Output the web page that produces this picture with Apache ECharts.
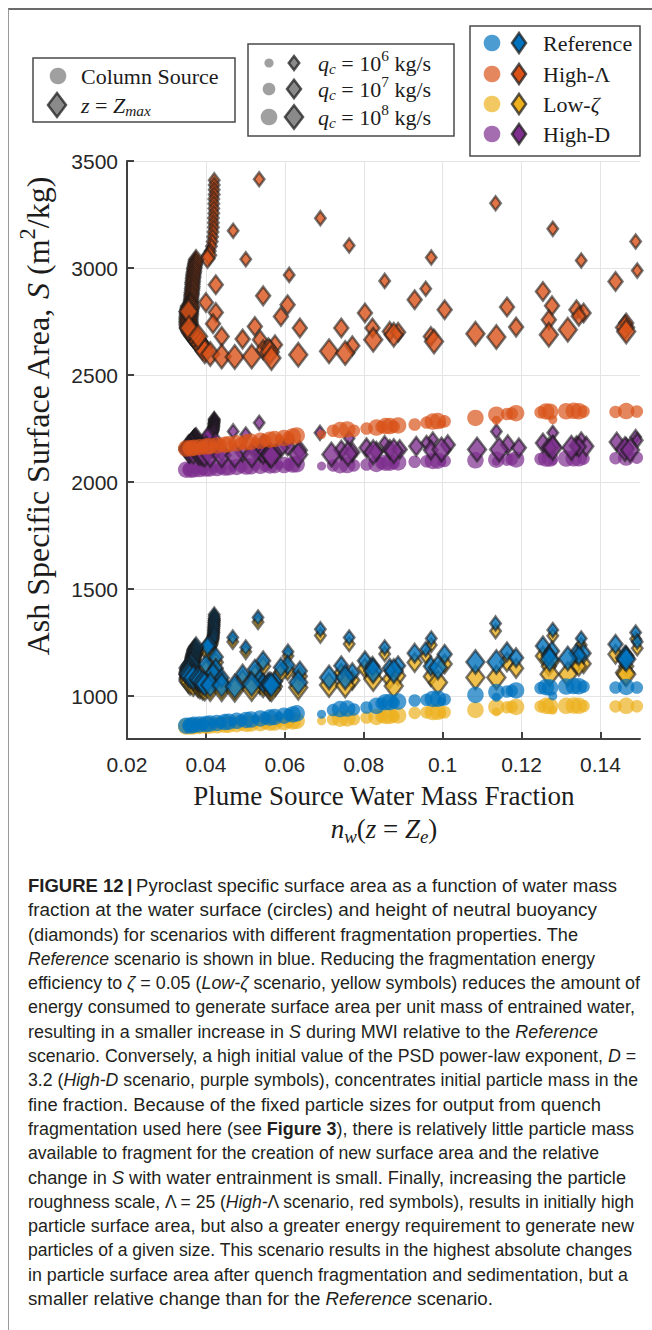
<!DOCTYPE html>
<html><head><meta charset="utf-8">
<script src="https://cdn.jsdelivr.net/npm/echarts@6/dist/echarts.min.js"></script>
<style>
html,body{margin:0;padding:0;background:#fff;width:652px;height:1330px;overflow:hidden;}
#frame{position:absolute;left:8px;top:8px;width:644px;height:1322px;border-top:2px solid #6b6b6b;border-left:1px solid #9a9a9a;box-sizing:border-box;}
#chart{position:absolute;left:0;top:0;width:652px;height:850px;}
#cap{position:absolute;left:28px;top:874px;font-family:"Liberation Sans",Arial,sans-serif;font-size:17.5px;line-height:24.3px;color:#231f20;white-space:nowrap;}
#cap div{transform-origin:0 50%;height:24.3px;}
</style></head>
<body>
<div id="frame"></div>
<div id="chart"></div>
<div id="cap">
<div data-w="589"><b>FIGURE 12&thinsp;|&thinsp;</b>Pyroclast specific surface area as a function of water mass</div>
<div data-w="569">fraction at the water surface (circles) and height of neutral buoyancy</div>
<div data-w="550">(diamonds) for scenarios with different fragmentation properties. The</div>
<div data-w="567"><i>Reference</i> scenario is shown in blue. Reducing the fragmentation energy</div>
<div data-w="612">efficiency to <i>ζ</i> = 0.05 (<i>Low-ζ</i> scenario, yellow symbols) reduces the amount of</div>
<div data-w="607">energy consumed to generate surface area per unit mass of entrained water,</div>
<div data-w="570">resulting in a smaller increase in <i>S</i> during MWI relative to the <i>Reference</i></div>
<div data-w="608">scenario. Conversely, a high initial value of the PSD power-law exponent, <i>D</i> =</div>
<div data-w="610">3.2 (<i>High-D</i> scenario, purple symbols), concentrates initial particle mass in the</div>
<div data-w="573">fine fraction. Because of the fixed particle sizes for output from quench</div>
<div data-w="606">fragmentation used here (see <b>Figure 3</b>), there is relatively little particle mass</div>
<div data-w="571">available to fragment for the creation of new surface area and the relative</div>
<div data-w="598">change in <i>S</i> with water entrainment is small. Finally, increasing the particle</div>
<div data-w="606">roughness scale, Λ = 25 (<i>High-</i>Λ scenario, red symbols), results in initially high</div>
<div data-w="606">particle surface area, but also a greater energy requirement to generate new</div>
<div data-w="604">particles of a given size. This scenario results in the highest absolute changes</div>
<div data-w="600">in particle surface area after quench fragmentation and sedimentation, but a</div>
<div data-w="465">smaller relative change than for the <i>Reference</i> scenario.</div>
</div>
<script>
// ---------------- data ----------------
const xTicks = [0.02, 0.04, 0.06, 0.08, 0.10, 0.12, 0.14];
const yTicks = [1000, 1500, 2000, 2500, 3000, 3500];
const scenarioNames = ['Reference', 'High-Λ', 'Low-ζ', 'High-D'];
const qcExponents = [6, 7, 8];

// [water mass fraction, S (m2/kg), log10(qc)]
const refCirc = [
 [0.0350,862,8],[0.0356,864,7],[0.0362,863,8],[0.0370,866,8],[0.0376,865,6],[0.0384,868,8],[0.0392,869,7],[0.0400,870,8],[0.0410,872,8],[0.0418,873,6],[0.0428,875,8],[0.0438,877,7],[0.0448,879,8],[0.0458,881,8],[0.0468,882,6],[0.0478,885,8],[0.0490,887,7],[0.0502,889,8],[0.0514,891,8],[0.0526,893,6],[0.0538,896,8],[0.0550,898,7],[0.0562,900,8],[0.0574,903,8],[0.0586,906,6],[0.0598,909,8],[0.0610,912,7],[0.0620,915,8],[0.0630,920,8],
 [0.0693,916,6],[0.0722,935,7],[0.0740,940,8],[0.0758,942,8],[0.0775,938,7],[0.0807,947,7],[0.0832,955,8],
 [0.0845,966,7],[0.0855,972,8],[0.0866,972,8],[0.0876,970,7],[0.0887,975,8],
 [0.0929,980,7],[0.0959,983,7],[0.0975,987,8],[0.0988,988,8],[0.1005,985,7],[0.0997,975,6],
 [0.1083,1006,8],[0.1136,1019,8],[0.1136,995,6],[0.1163,1022,7],[0.1175,1025,7],[0.1186,1027,8],
 [0.1248,1038,7],[0.1262,1042,8],[0.1272,1040,8],[0.1279,1001,6],
 [0.1313,1045,8],[0.1332,1047,8],[0.1345,1046,8],[0.1357,1045,7],
 [0.1438,1040,7],[0.1465,1043,8],[0.1492,1040,7]
];
const lowZetaCirc = [
 [0.0350,858,8],[0.0356,859,7],[0.0362,858,8],[0.0370,860,8],[0.0376,859,6],[0.0384,861,8],[0.0392,861,7],[0.0400,862,8],[0.0410,863,8],[0.0418,863,6],[0.0428,864,8],[0.0438,865,7],[0.0448,866,8],[0.0458,867,8],[0.0468,867,6],[0.0478,869,8],[0.0490,870,7],[0.0502,871,8],[0.0514,872,8],[0.0526,872,6],[0.0538,874,8],[0.0550,875,7],[0.0562,876,8],[0.0574,877,8],[0.0586,877,6],[0.0598,879,8],[0.0610,880,7],[0.0620,882,8],[0.0630,885,8],
 [0.0693,885,6],[0.0722,892,7],[0.0740,895,8],[0.0758,896,8],[0.0775,893,7],[0.0807,900,7],[0.0832,903,8],
 [0.0845,905,7],[0.0855,908,8],[0.0866,908,8],[0.0876,906,7],[0.0887,910,8],
 [0.0929,922,7],[0.0959,924,7],[0.0975,926,8],[0.0988,927,8],[0.1005,925,7],[0.0997,918,6],
 [0.1083,936,8],[0.1136,949,8],[0.1136,927,6],[0.1163,948,7],[0.1175,950,7],[0.1186,950,8],
 [0.1248,952,7],[0.1262,955,8],[0.1272,954,8],[0.1279,935,6],
 [0.1313,955,8],[0.1332,956,8],[0.1345,955,8],[0.1357,954,7],
 [0.1438,952,7],[0.1465,955,8],[0.1492,953,7]
];
const hiLamCirc = [
 [0.0350,2157,8],[0.0356,2159,7],[0.0362,2158,8],[0.0370,2161,8],[0.0376,2160,6],[0.0384,2163,8],[0.0392,2164,7],[0.0400,2166,8],[0.0410,2168,8],[0.0418,2168,6],[0.0428,2171,8],[0.0438,2173,7],[0.0448,2175,8],[0.0458,2177,8],[0.0468,2177,6],[0.0478,2181,8],[0.0490,2183,7],[0.0502,2186,8],[0.0514,2188,8],[0.0526,2188,6],[0.0538,2193,8],[0.0550,2195,7],[0.0562,2198,8],[0.0574,2201,8],[0.0586,2202,6],[0.0598,2206,8],[0.0610,2209,7],[0.0620,2213,8],[0.0630,2218,8],
 [0.0693,2222,6],[0.0722,2240,7],[0.0740,2243,8],[0.0758,2246,8],[0.0775,2240,7],[0.0807,2250,7],[0.0832,2255,8],
 [0.0845,2258,7],[0.0855,2262,8],[0.0866,2262,8],[0.0876,2259,7],[0.0887,2265,8],
 [0.0929,2269,7],[0.0959,2278,7],[0.0975,2283,8],[0.0988,2285,8],[0.1005,2284,7],[0.0997,2272,6],
 [0.1083,2300,8],[0.1136,2315,8],[0.1136,2289,6],[0.1163,2318,7],[0.1175,2320,7],[0.1186,2322,8],
 [0.1248,2326,7],[0.1262,2330,8],[0.1272,2329,8],[0.1279,2292,6],
 [0.1313,2331,8],[0.1332,2333,8],[0.1345,2331,8],[0.1357,2330,7],
 [0.1438,2328,7],[0.1465,2332,8],[0.1492,2330,7]
];
const hiDCirc = [
 [0.0350,2058,8],[0.0356,2059,7],[0.0362,2058,8],[0.0370,2060,8],[0.0376,2059,6],[0.0384,2061,8],[0.0392,2062,7],[0.0400,2063,8],[0.0410,2064,8],[0.0418,2064,6],[0.0428,2066,8],[0.0438,2067,7],[0.0448,2068,8],[0.0458,2069,8],[0.0468,2069,6],[0.0478,2071,8],[0.0490,2072,7],[0.0502,2073,8],[0.0514,2074,8],[0.0526,2074,6],[0.0538,2076,8],[0.0550,2077,7],[0.0562,2078,8],[0.0574,2079,8],[0.0586,2079,6],[0.0598,2080,8],[0.0610,2081,7],[0.0620,2082,8],[0.0630,2083,8],
 [0.0693,2075,6],[0.0722,2078,7],[0.0740,2079,8],[0.0758,2080,8],[0.0775,2078,7],[0.0807,2082,7],[0.0832,2085,8],
 [0.0845,2088,7],[0.0855,2091,8],[0.0866,2091,8],[0.0876,2089,7],[0.0887,2092,8],
 [0.0929,2095,7],[0.0959,2097,7],[0.0975,2099,8],[0.0988,2100,8],[0.1005,2099,7],[0.0997,2094,6],
 [0.1083,2102,8],[0.1136,2105,8],[0.1136,2098,6],[0.1163,2105,7],[0.1175,2106,7],[0.1186,2106,8],
 [0.1248,2108,7],[0.1262,2110,8],[0.1272,2110,8],[0.1279,2100,6],
 [0.1313,2110,8],[0.1332,2111,8],[0.1345,2111,8],[0.1357,2110,7],
 [0.1438,2112,7],[0.1465,2115,8],[0.1492,2114,7]
];

const hiLamDia = [
 [0.0421,3410,6],[0.0421,3388,6],[0.0421,3366,6],[0.0421,3344,6],[0.0420,3322,6],[0.0420,3300,6],[0.0420,3278,6],[0.0420,3256,6],[0.0419,3234,6],[0.0419,3212,6],[0.0419,3190,6],[0.0418,3168,6],[0.0417,3146,6],[0.0416,3124,6],[0.0414,3102,6],[0.0411,3080,6],[0.0408,3060,7],[0.0404,3045,7],
 [0.0375,3040,7],[0.0374,3031,7],[0.0373,3021,7],[0.0372,3013,7],[0.0371,3003,7],[0.0370,2995,7],[0.0370,2985,7],[0.0369,2977,7],[0.0368,2967,7],[0.0368,2958,7],[0.0367,2950,7],[0.0367,2940,7],[0.0366,2931,7],[0.0366,2923,7],[0.0366,2913,7],[0.0365,2904,7],[0.0365,2896,7],[0.0364,2886,7],[0.0364,2877,7],[0.0363,2869,7],[0.0363,2859,7],[0.0362,2850,7],[0.0362,2841,7],[0.0361,2832,7],[0.0360,2823,8],[0.0359,2814,8],[0.0358,2806,8],[0.0357,2796,8],[0.0357,2788,8],[0.0357,2779,8],[0.0356,2770,8],[0.0356,2761,8],[0.0356,2752,8],[0.0356,2743,8],[0.0356,2734,8],[0.0357,2725,8],[0.0358,2716,8],[0.0360,2706,8],[0.0363,2696,8],[0.0368,2685,8],[0.0374,2672,8],[0.0380,2658,8],[0.0386,2644,8],[0.0392,2628,8],[0.0397,2611,8],
 [0.0356,2797,8],[0.0357,2720,8],[0.0380,2680,8],
 [0.0535,3415,6],[0.0469,3174,6],[0.0501,3041,6],[0.0611,2968,6],[0.0425,2922,7],[0.0545,2870,7],[0.0400,2839,7],[0.0607,2828,7],[0.0425,2792,7],[0.0590,2774,7],[0.0418,2740,7],[0.0524,2727,7],[0.0638,2720,7],[0.0440,2680,7],[0.0493,2668,7],[0.0537,2665,7],[0.0575,2642,7],[0.0545,2618,7],[0.0558,2628,7],[0.0562,2608,8],[0.0411,2598,8],[0.0440,2587,8],[0.0473,2584,8],[0.0516,2587,8],[0.0566,2580,8],[0.0634,2595,8],
 [0.0690,3233,6],[0.0763,3105,6],[0.0803,2790,7],[0.0743,2720,7],[0.0822,2720,7],[0.0771,2637,7],[0.0824,2665,8],[0.0712,2611,8],[0.0753,2603,8],
 [0.0853,2940,6],[0.0971,3049,6],[0.0957,2903,6],[0.0929,2852,7],[0.1005,2805,7],[0.0866,2704,7],[0.0887,2700,7],[0.0876,2688,8],[0.0970,2680,7],[0.0978,2657,8],
 [0.1134,3303,6],[0.1163,2818,7],[0.1186,2724,7],[0.1083,2693,8],[0.1136,2678,8],
 [0.1279,3183,6],[0.1351,3035,6],[0.1254,2890,7],[0.1277,2824,7],[0.1339,2805,7],[0.1357,2790,7],[0.1345,2775,7],[0.1269,2758,7],[0.1317,2712,8],[0.1269,2688,8],
 [0.1489,3124,6],[0.1493,2988,6],[0.1438,2937,7],[0.1465,2743,7],[0.1462,2722,8],[0.1465,2704,8]
];
const refDia = [
 [0.0421,1381,6],[0.0421,1372,6],[0.0421,1363,6],[0.0421,1354,6],[0.0420,1345,6],[0.0420,1336,6],[0.0420,1327,6],[0.0420,1318,6],[0.0419,1309,6],[0.0419,1300,6],[0.0419,1292,6],[0.0418,1283,6],[0.0417,1274,6],[0.0416,1265,6],[0.0414,1256,6],[0.0411,1247,6],[0.0408,1239,7],[0.0404,1233,7],
 [0.0375,1231,7],[0.0373,1223,7],[0.0371,1217,7],[0.0370,1210,7],[0.0369,1202,7],[0.0368,1195,7],[0.0367,1188,7],[0.0366,1181,7],[0.0366,1174,7],[0.0365,1167,7],[0.0364,1160,7],[0.0363,1153,7],[0.0362,1146,8],[0.0360,1138,8],[0.0356,1132,8],[0.0358,1125,8],[0.0357,1117,8],[0.0356,1110,8],[0.0356,1101,8],[0.0360,1093,8],[0.0368,1087,8],[0.0380,1081,8],[0.0385,1073,8],[0.0392,1065,8],[0.0397,1057,8],
 [0.0532,1367,6],[0.0468,1274,6],[0.0501,1227,6],[0.0608,1208,6],[0.0425,1183,7],[0.0545,1165,7],[0.0400,1149,7],[0.0607,1145,7],[0.0425,1130,7],[0.0590,1134,7],[0.0418,1109,7],[0.0524,1126,7],[0.0638,1118,7],[0.0440,1085,7],[0.0493,1103,7],[0.0537,1079,7],[0.0575,1070,7],[0.0545,1060,7],[0.0558,1064,7],[0.0562,1056,8],[0.0411,1052,8],[0.0440,1051,8],[0.0473,1045,8],[0.0516,1056,8],[0.0566,1051,8],[0.0634,1064,8],
 [0.0690,1313,6],[0.0763,1274,6],[0.0803,1165,7],[0.0743,1142,7],[0.0822,1140,7],[0.0771,1110,7],[0.0824,1118,8],[0.0712,1087,8],[0.0753,1087,8],
 [0.0853,1227,6],[0.0971,1269,6],[0.0957,1219,6],[0.0929,1201,7],[0.1005,1196,7],[0.0866,1130,7],[0.0887,1142,7],[0.0876,1118,8],[0.0970,1140,7],[0.0988,1134,8],
 [0.1134,1340,6],[0.1163,1207,7],[0.1186,1180,7],[0.1083,1160,8],[0.1136,1160,8],
 [0.1279,1309,6],[0.1351,1269,6],[0.1254,1235,7],[0.1277,1211,7],[0.1339,1200,7],[0.1357,1200,7],[0.1345,1190,7],[0.1269,1190,7],[0.1317,1176,8],[0.1271,1173,8],
 [0.1489,1297,6],[0.1493,1254,6],[0.1438,1243,7],[0.1465,1190,7],[0.1462,1180,8],[0.1465,1173,8]
];
const lowZetaDia = [
 [0.0421,1360,6],[0.0421,1351,6],[0.0421,1342,6],[0.0421,1333,6],[0.0420,1324,6],[0.0420,1315,6],[0.0420,1306,6],[0.0420,1297,6],[0.0419,1288,6],[0.0419,1279,6],[0.0419,1271,6],[0.0418,1262,6],[0.0417,1253,6],[0.0416,1244,6],[0.0414,1235,6],[0.0411,1226,6],[0.0408,1214,7],[0.0404,1208,7],
 [0.0375,1206,7],[0.0373,1198,7],[0.0371,1192,7],[0.0370,1185,7],[0.0369,1177,7],[0.0368,1170,7],[0.0367,1163,7],[0.0366,1156,7],[0.0366,1149,7],[0.0365,1142,7],[0.0364,1135,7],[0.0363,1128,7],[0.0362,1116,8],[0.0360,1108,8],[0.0356,1102,8],[0.0358,1095,8],[0.0357,1087,8],[0.0356,1080,8],[0.0356,1071,8],[0.0360,1063,8],[0.0368,1057,8],[0.0380,1051,8],[0.0385,1045,8],[0.0392,1040,8],[0.0397,1036,8],
 [0.0532,1347,6],[0.0468,1254,6],[0.0501,1207,6],[0.0608,1188,6],[0.0425,1158,7],[0.0545,1140,7],[0.0400,1124,7],[0.0607,1120,7],[0.0425,1105,7],[0.0590,1109,7],[0.0418,1084,7],[0.0524,1101,7],[0.0638,1093,7],[0.0440,1060,7],[0.0493,1078,7],[0.0537,1054,7],[0.0575,1045,7],[0.0545,1040,7],[0.0558,1042,7],[0.0562,1036,8],[0.0411,1034,8],[0.0440,1033,8],[0.0473,1030,8],[0.0516,1034,8],[0.0566,1032,8],[0.0634,1040,8],
 [0.0690,1283,6],[0.0763,1244,6],[0.0803,1130,7],[0.0743,1107,7],[0.0822,1105,7],[0.0771,1075,7],[0.0824,1080,8],[0.0712,1052,8],[0.0753,1050,8],
 [0.0853,1197,6],[0.0971,1239,6],[0.0957,1187,6],[0.0929,1157,7],[0.1005,1150,7],[0.0866,1080,7],[0.0887,1095,7],[0.0876,1048,8],[0.0970,1092,7],[0.0988,1064,8],
 [0.1134,1304,6],[0.1163,1160,7],[0.1186,1130,7],[0.1083,1087,8],[0.1136,1087,8],
 [0.1279,1282,6],[0.1351,1239,6],[0.1254,1188,7],[0.1277,1162,7],[0.1339,1152,7],[0.1357,1152,7],[0.1345,1140,7],[0.1269,1140,7],[0.1317,1103,8],[0.1271,1103,8],
 [0.1489,1267,6],[0.1493,1224,6],[0.1438,1196,7],[0.1465,1140,7],[0.1462,1110,8],[0.1465,1103,8]
];
const hiDDia = [
 [0.0421,2295,6],[0.0421,2290,6],[0.0421,2285,6],[0.0421,2280,6],[0.0420,2275,6],[0.0420,2270,6],[0.0420,2265,6],[0.0420,2260,6],[0.0419,2255,6],[0.0419,2250,6],[0.0419,2245,6],[0.0418,2240,6],[0.0417,2235,6],[0.0416,2229,6],[0.0414,2224,6],[0.0411,2218,6],[0.0408,2213,7],[0.0404,2209,7],
 [0.0375,2208,7],[0.0373,2205,7],[0.0371,2202,7],[0.0370,2199,7],[0.0369,2195,7],[0.0368,2192,7],[0.0367,2189,7],[0.0366,2186,7],[0.0366,2182,7],[0.0365,2179,7],[0.0364,2176,7],[0.0363,2173,7],[0.0362,2170,8],[0.0360,2166,8],[0.0356,2163,8],[0.0358,2160,8],[0.0357,2157,8],[0.0356,2153,8],[0.0356,2149,8],[0.0360,2145,8],[0.0368,2143,8],[0.0380,2140,8],[0.0385,2136,8],[0.0392,2133,8],[0.0397,2129,8],
 [0.0535,2277,6],[0.0469,2237,6],[0.0501,2222,6],[0.0611,2195,6],[0.0425,2187,7],[0.0545,2177,7],[0.0400,2171,7],[0.0607,2169,7],[0.0425,2162,7],[0.0590,2159,7],[0.0418,2153,7],[0.0524,2150,7],[0.0638,2149,7],[0.0440,2142,7],[0.0493,2140,7],[0.0537,2139,7],[0.0575,2135,7],[0.0545,2130,7],[0.0558,2132,7],[0.0562,2128,8],[0.0411,2127,8],[0.0440,2125,8],[0.0473,2124,8],[0.0516,2125,8],[0.0566,2123,8],[0.0634,2129,8],
 [0.0689,2230,6],[0.0763,2205,6],[0.0807,2160,7],[0.0743,2150,7],[0.0832,2144,7],[0.0771,2140,7],[0.0824,2140,8],[0.0718,2129,8],[0.0760,2133,8],
 [0.0853,2182,6],[0.0975,2199,6],[0.0959,2183,6],[0.0933,2167,7],[0.1013,2175,7],[0.0866,2152,7],[0.0891,2152,7],[0.0876,2145,8],[0.0970,2150,7],[0.0997,2152,8],
 [0.1136,2237,6],[0.1165,2175,7],[0.1193,2160,7],[0.1087,2152,8],[0.1143,2152,8],
 [0.1279,2230,6],[0.1351,2199,6],[0.1254,2183,7],[0.1279,2170,7],[0.1339,2170,7],[0.1364,2167,7],[0.1345,2165,7],[0.1269,2162,7],[0.1326,2160,8],[0.1279,2160,8],
 [0.1489,2211,6],[0.1493,2195,6],[0.1441,2187,7],[0.1465,2162,7],[0.1462,2155,8],[0.1475,2150,8]
];

// ---------------- styles ----------------
const COL = { ref: '#0072BD', hiLam: '#D95319', lowZeta: '#EDB120', hiD: '#7E2F8E' };
const CIRC_SIZE = { 6: 9, 7: 12.5, 8: 16.5 };
const DIA_SIZE = { 6: [10.5, 14], 7: [14, 18.5], 8: [18, 23.5] };
const EDGE = 'rgba(25,25,25,0.72)';
const TXT = '#1c1c1c';
const SERIF = 'Liberation Serif';
const SANS = 'Liberation Sans';

function circSeries(name, data, color) {
  return { name, type: 'scatter', data, symbol: 'circle', clip: false, silent: true,
    symbolSize: d => CIRC_SIZE[d[2]], itemStyle: { color, opacity: 0.7 }, emphasis: { disabled: true } };
}
function diaSeries(name, data, color) {
  return { name, type: 'scatter', data, symbol: 'diamond', clip: false, silent: true,
    symbolSize: d => DIA_SIZE[d[2]], itemStyle: { color, borderColor: EDGE, borderWidth: 2.5 }, emphasis: { disabled: true } };
}

// ---------------- text helpers ----------------
const mctx = document.createElement('canvas').getContext('2d');
function measure(t, font) { mctx.font = font; return mctx.measureText(t).width; }
function mathParts(parts, size, color) {
  let x = 0; const ch = [];
  for (const [t, st] of parts) {
    const small = (st === 'sub' || st === 'sup' || st === 'isub');
    const fs = small ? size * 0.7 : size;
    const italic = (st === 'i' || st === 'isub');
    const font = (italic ? 'italic ' : '') + fs + 'px "' + SERIF + '"';
    const dy = st === 'sup' ? -size * 0.33 : (small ? size * 0.27 : 0);
    ch.push({ type: 'text', x: x, y: dy, silent: true,
      style: { text: t, fontSize: fs, fontFamily: SERIF, fontStyle: italic ? 'italic' : 'normal',
        fill: color || TXT, align: 'left', verticalAlign: 'middle' } });
    x += measure(t, font);
  }
  return { ch, w: x };
}
function textGroup(x, y, parts, size, anchor, rotation) {
  const m = mathParts(parts, size);
  if (anchor === 'center') m.ch.forEach(c => { c.x -= m.w / 2; });
  const g = { type: 'group', x, y, children: m.ch, silent: true };
  if (rotation) g.rotation = rotation;
  return g;
}
function diamond(cx, cy, w, h, fill) {
  return { type: 'polygon', silent: true,
    shape: { points: [[cx, cy - h / 2], [cx + w / 2, cy], [cx, cy + h / 2], [cx - w / 2, cy]] },
    style: { fill, stroke: EDGE, lineWidth: 2.5 } };
}
function circle(cx, cy, r, fill, op) {
  return { type: 'circle', silent: true, shape: { cx, cy, r }, style: { fill, opacity: op == null ? 1 : op } };
}
function box(x, y, w, h) {
  return { type: 'rect', silent: true, shape: { x, y, width: w, height: h },
    style: { fill: '#fff', stroke: '#4a4a4a', lineWidth: 1.5 } };
}

// ---------------- graphic (legends, titles) ----------------
const LS = 22;
const graphic = [];
// legend 1
graphic.push(box(33, 58, 202, 64));
graphic.push(circle(58, 76, 8.3, '#8f8f8f', 0.85));
graphic.push(diamond(57, 105, 18, 24, '#8a8a8a'));
graphic.push(textGroup(81, 76, [['Column Source', 'n']], LS));
graphic.push(textGroup(81, 105, [['z', 'i'], [' = ', 'n'], ['Z', 'i'], ['max', 'isub']], LS));
// legend 2
graphic.push(box(248, 44, 206, 92));
const l2y = [63, 89, 117];
const l2r = { 6: 4.6, 7: 6.3, 8: 8.3 };
qcExponents.forEach((q, i) => {
  graphic.push(circle(269, l2y[i], l2r[q], '#8f8f8f', 0.85));
  graphic.push(diamond(294, l2y[i], DIA_SIZE[q][0], DIA_SIZE[q][1], '#8a8a8a'));
  graphic.push(textGroup(318, l2y[i], [['q', 'i'], ['c', 'isub'], [' = 10', 'n'], [String(q), 'sup'], [' kg/s', 'n']], LS));
});
// legend 3
graphic.push(box(470, 26, 170, 130));
const l3y = [43, 74, 104, 134];
const l3c = [COL.ref, COL.hiLam, COL.lowZeta, COL.hiD];
const l3t = [
  [['Reference', 'n']],
  [['High-Λ', 'n']],
  [['Low-', 'n'], ['ζ', 'i']],
  [['High-D', 'n']]
];
scenarioNames.forEach((nm, i) => {
  graphic.push(circle(492, l3y[i], 8.3, l3c[i], 0.7));
  graphic.push(diamond(519, l3y[i], 14, 20, l3c[i]));
  graphic.push(textGroup(543, l3y[i], l3t[i], LS));
});
// axis titles
graphic.push(textGroup(38, 416, [['Ash Specific Surface Area, ', 'n'], ['S', 'i'], [' (m', 'n'], ['2', 'sup'], ['/kg)', 'n']], 32, 'center', Math.PI / 2));
graphic.push(textGroup(384, 796, [['Plume Source Water Mass Fraction', 'n']], 27, 'center'));
graphic.push(textGroup(384, 829, [['n', 'i'], ['w', 'isub'], ['(', 'n'], ['z', 'i'], [' = ', 'n'], ['Z', 'i'], ['e', 'isub'], [')', 'n']], 27, 'center'));

// ---------------- chart ----------------
const chart = echarts.init(document.getElementById('chart'), null, { renderer: 'svg' });
const axisCommon = {
  type: 'value',
  axisLine: { show: true, onZero: false, lineStyle: { color: '#404040', width: 2 } },
  axisTick: { show: true, inside: true, length: 7, lineStyle: { color: '#404040', width: 2 } },
  splitLine: { show: true, lineStyle: { color: '#e4e4e4', width: 1 } },
  axisLabel: { fontSize: 21, fontFamily: SANS, color: '#262626', lineHeight: 21 }
};
chart.setOption({
  animation: false,
  backgroundColor: 'transparent',
  grid: { left: 127, right: 12, top: 161, bottom: 111, containLabel: false, outerBoundsMode: 'none' },
  xAxis: Object.assign({}, axisCommon, {
    min: 0.02, max: 0.15,
    axisTick: Object.assign({}, axisCommon.axisTick, { customValues: xTicks }),
    axisLabel: Object.assign({}, axisCommon.axisLabel, { customValues: xTicks, margin: 15,
      formatter: v => String(+(+v).toFixed(2)) })
  }),
  yAxis: Object.assign({}, axisCommon, {
    min: 800, max: 3500,
    axisTick: Object.assign({}, axisCommon.axisTick, { customValues: yTicks }),
    axisLabel: Object.assign({}, axisCommon.axisLabel, { customValues: yTicks, margin: 9,
      formatter: v => String(Math.round(+v)) })
  }),
  legend: { show: false },
  tooltip: { show: false },
  graphic: graphic,
  series: [
    circSeries('High-D column', hiDCirc, COL.hiD),
    diaSeries('High-D zmax', hiDDia, COL.hiD),
    circSeries('Low-ζ column', lowZetaCirc, COL.lowZeta),
    diaSeries('Low-ζ zmax', lowZetaDia, COL.lowZeta),
    circSeries('High-Λ column', hiLamCirc, COL.hiLam),
    diaSeries('High-Λ zmax', hiLamDia, COL.hiLam),
    circSeries('Reference column', refCirc, COL.ref),
    diaSeries('Reference zmax', refDia, COL.ref)
  ]
});

// caption line fitting
document.querySelectorAll('#cap div').forEach(d => {
  const target = +d.getAttribute('data-w');
  d.style.display = 'inline-block';
  const w = d.getBoundingClientRect().width;
  d.style.display = 'block';
  if (w > 0) d.style.transform = 'scaleX(' + (target / w).toFixed(4) + ')';
});
</script>
</body></html>
